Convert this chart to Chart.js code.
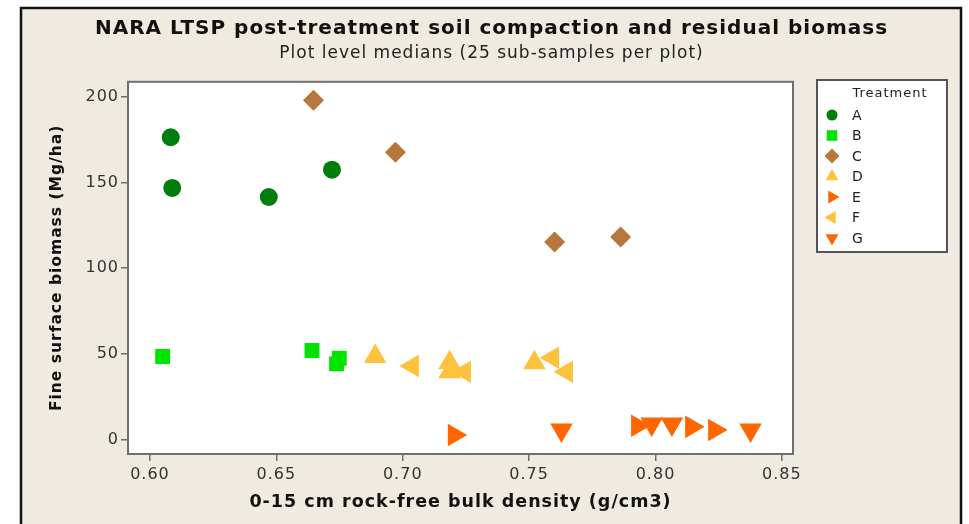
<!DOCTYPE html>
<html><head><meta charset="utf-8">
<script src="https://cdn.jsdelivr.net/npm/chart.js@4/dist/chart.umd.min.js"></script>
<style>html,body{margin:0;padding:0;background:#fff;} canvas{display:block}</style>
</head><body>
<canvas id="c" width="969" height="524" style="width:969px;height:524px"></canvas>
<script>
// ---- data ----
const treatments = ['A', 'B', 'C', 'D', 'E', 'F', 'G'];
const aX = [0.6082, 0.6088, 0.6470, 0.6720];
const aY = [176.3, 146.8, 141.5, 157.4];
const bX = [0.6050, 0.6641, 0.6749, 0.6738];
const bY = [48.6, 52.1, 47.6, 44.3];
const cX = [0.6647, 0.6971, 0.7601, 0.7862];
const cY = [197.8, 167.5, 115.3, 118.2];
const dX = [0.6891, 0.7185, 0.7185, 0.7521];
const dY = [48.6, 44.9, 39.7, 44.9];
const eX = [0.7204, 0.7929, 0.8143, 0.8234];
const eY = [2.9, 8.2, 7.6, 5.8];
const fX = [0.7038, 0.7244, 0.7593, 0.7648];
const fY = [43.1, 39.7, 47.8, 39.7];
const gX = [0.7628, 0.7985, 0.8065, 0.8376];
const gY = [5.8, 9.3, 9.3, 5.8];
const xTicks = [0.60, 0.65, 0.70, 0.75, 0.80, 0.85];
const yTicks = [0, 50, 100, 150, 200];

const seriesX = [aX, bX, cX, dX, eX, fX, gX];
const seriesY = [aY, bY, cY, dY, eY, fY, gY];
const colors = ['#007d0c', '#00e400', '#b7773a', '#ffc23c', '#ff6600', '#ffc23c', '#ff6600'];
const styles = ['circle', 'rect', 'rectRot', 'triangle', 'triangle', 'triangle', 'triangle'];
const rotations = [0, 0, 0, 0, 90, 270, 180];
const radii = [9, 10.5, 10.5, 13, 13, 13, 13];
const legendRadii = [5.5, 7.5, 7.5, 7.5, 7.5, 7.5, 7.5];

const datasets = treatments.map((t, i) => ({
  label: t,
  data: seriesX[i].map((x, j) => ({x: x, y: seriesY[i][j]})),
  backgroundColor: colors[i],
  borderColor: colors[i],
  borderWidth: 0,
  pointStyle: styles[i],
  rotation: rotations[i],
  pointRadius: radii[i],
  pointHoverRadius: radii[i]
}));

const FONT = 'DejaVu Sans';

const framePlugin = {
  id: 'frame',
  beforeDraw(chart) {
    const ctx = chart.ctx, a = chart.chartArea;
    ctx.save();
    ctx.fillStyle = '#ffffff';
    ctx.fillRect(0, 0, chart.width, chart.height);
    ctx.fillStyle = '#efebe1';
    ctx.fillRect(21, 8, 940, 520);
    ctx.strokeStyle = '#111';
    ctx.lineWidth = 2.5;
    ctx.beginPath();
    ctx.moveTo(21, 530); ctx.lineTo(21, 8); ctx.lineTo(961, 8); ctx.lineTo(961, 530);
    ctx.stroke();
    ctx.fillStyle = '#ffffff';
    ctx.fillRect(a.left, a.top, a.right - a.left, a.bottom - a.top);
    ctx.restore();
    ctx.letterSpacing = '1px';
  },
  afterDraw(chart) {
    const ctx = chart.ctx, a = chart.chartArea;
    ctx.save();
    ctx.strokeStyle = '#6f6f6f';
    ctx.lineWidth = 2;
    ctx.strokeRect(a.left, a.top, a.right - a.left, a.bottom - a.top);
    // legend
    const lx = 817, ly = 80, lw = 130, lh = 172;
    ctx.fillStyle = '#ffffff';
    ctx.fillRect(lx, ly, lw, lh);
    ctx.strokeStyle = '#555';
    ctx.lineWidth = 2;
    ctx.strokeRect(lx, ly, lw, lh);
    ctx.fillStyle = '#222';
    ctx.font = '13px "' + FONT + '"';
    ctx.textBaseline = 'middle';
    ctx.textAlign = 'center';
    ctx.fillText('Treatment', 890, 94);
    ctx.textAlign = 'left';
    ctx.font = '14px "' + FONT + '"';
    chart.data.datasets.forEach((ds, i) => {
      const y = 115 + i * 20.5;
      ctx.fillStyle = ds.backgroundColor;
      ctx.strokeStyle = ds.borderColor;
      Chart.helpers.drawPoint(ctx, {pointStyle: ds.pointStyle, rotation: ds.rotation, radius: legendRadii[i], borderWidth: 0}, 832, y);
      ctx.fillStyle = '#222';
      ctx.fillText(ds.label, 852, y + 1);
    });
    ctx.restore();
  }
};

new Chart(document.getElementById('c'), {
  type: 'scatter',
  data: {datasets: datasets},
  plugins: [framePlugin],
  options: {
    responsive: false,
    animation: false,
    events: [],
    layout: {padding: {left: 22, right: 8, top: 8, bottom: 0}},
    plugins: {
      legend: {display: false},
      tooltip: {enabled: false},
      title: {
        display: true,
        text: 'NARA LTSP post-treatment soil compaction and residual biomass',
        color: '#111',
        font: {family: FONT, size: 20, weight: 'bold', lineHeight: 1.2},
        padding: {top: 9, bottom: 0}
      },
      subtitle: {
        display: true,
        text: 'Plot level medians (25 sub-samples per plot)',
        color: '#222',
        font: {family: FONT, size: 17, weight: 'normal', lineHeight: 1.2},
        padding: {top: 2, bottom: 18.4}
      }
    },
    scales: {
      x: {
        type: 'linear',
        min: 0.5913, max: 0.8544,
        afterFit(s) { s.height = 70; },
        afterBuildTicks(s) { s.ticks = xTicks.map(v => ({value: v})); },
        grid: {display: true, drawOnChartArea: false, drawTicks: true, tickLength: 7, color: '#6f6f6f', lineWidth: 1.5},
        border: {display: false},
        ticks: {color: '#333', padding: 4, font: {family: FONT, size: 16}, callback: v => Number(v).toFixed(2), maxRotation: 0, autoSkip: false},
        title: {display: true, text: '0-15 cm rock-free bulk density (g/cm3)', color: '#111', font: {family: FONT, size: 17.5, weight: 'bold', lineHeight: 1.2}, padding: {top: 0, bottom: 11.5}}
      },
      y: {
        type: 'linear',
        min: -8.2, max: 208.6,
        afterFit(s) { s.width = 106; },
        afterBuildTicks(s) { s.ticks = yTicks.map(v => ({value: v})); },
        grid: {display: true, drawOnChartArea: false, drawTicks: true, tickLength: 7, color: '#6f6f6f', lineWidth: 1.5},
        border: {display: false},
        ticks: {color: '#333', padding: 2, font: {family: FONT, size: 16}, autoSkip: false},
        title: {display: true, text: 'Fine surface biomass (Mg/ha)', color: '#111', font: {family: FONT, size: 15.5, weight: 'bold', lineHeight: 1.2}, padding: {top: 26, bottom: 0}}
      },
      y2: {
        type: 'linear',
        position: 'right',
        display: true,
        afterFit(s) { s.width = 168; },
        grid: {display: false},
        border: {display: false},
        ticks: {display: false}
      }
    }
  }
});
</script>
</body></html>
